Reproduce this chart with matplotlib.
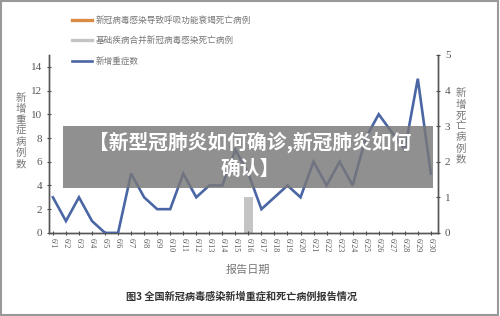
import matplotlib
matplotlib.use("Agg")
import matplotlib.pyplot as plt
from matplotlib.lines import Line2D
from matplotlib.patches import Rectangle

plt.rcParams['font.family'] = ['Noto Sans CJK SC', 'DejaVu Sans']

dates = [f"6/{d}" for d in range(1, 31)]
severe = [3, 1, 3, 1, 0, 0, 5, 3, 2, 2, 5, 3, 4, 4, 7, 5, 2, 3, 4, 3,
          6, 4, 6, 4, 8, 10, 8.5, 7, 13, 5]
resp_deaths = [0] * 30
comorb_deaths = [0] * 15 + [1] + [0] * 14

legend_labels = ["新冠病毒感染导致呼吸功能衰竭死亡病例",
                 "基础疾病合并新冠病毒感染死亡病例",
                 "新增重症数"]
left_ticks = [0, 2, 4, 6, 8, 10, 12, 14]
right_ticks = [0, 1, 2, 3, 4, 5]

C_ORANGE = "#DC8B45"
C_GRAY = "#C4C4C4"
C_BLUE = "#4B66A4"
C_TXT = "#555555"

fig = plt.figure(figsize=(5.0, 3.16), dpi=100)
ax = fig.add_axes([0.098, 0.263, 0.778, 0.563])
ax2 = ax.twinx()

x = list(range(len(dates)))
ax2.bar(x, resp_deaths, width=0.75, color=C_ORANGE, zorder=1)
ax2.bar(x, comorb_deaths, width=0.75, bottom=resp_deaths, color=C_GRAY, zorder=1)
ax.plot(x, severe, color=C_BLUE, lw=1.9, zorder=3, solid_joinstyle='miter')
ax.set_zorder(ax2.get_zorder() + 1)
ax.patch.set_visible(False)

ax.set_xlim(-0.3, 29.55)
ax.set_ylim(0, 15)
ax2.set_ylim(0, 5)
ax.set_yticks(left_ticks)
ax2.set_yticks(right_ticks)
ax.set_xticks(x)
ax.set_xticklabels(dates, rotation=-90, fontsize=5.8, color=C_TXT,
                   family=['Liberation Serif'])
for a in (ax, ax2):
    for s in a.spines.values():
        s.set_color("#555555")
        s.set_linewidth(1.0)
    a.spines['top'].set_visible(False)
ax.tick_params(axis='y', labelsize=8, colors="#444444", length=3, direction='inout', labelcolor=C_TXT)
ax2.tick_params(axis='y', labelsize=8, colors="#444444", length=3, direction='inout', labelcolor=C_TXT)
ax.tick_params(axis='x', length=3, direction='inout', colors="#444444", labelcolor=C_TXT, pad=2)
for lab in ax.get_yticklabels() + ax2.get_yticklabels():
    lab.set_family(['Liberation Serif'])

# axis titles (vertical stacked CJK)
fig.text(0.042, 0.585, "\n".join("新增重症病例数"), ha='center', va='center',
         fontsize=7.5, color="#777777", linespacing=1.12)
fig.text(0.922, 0.6, "\n".join("新增死亡病例数"), ha='center', va='center',
         fontsize=7.5, color="#777777", linespacing=1.12)
fig.text(0.496, 0.145, "报告日期", ha='center', va='center', fontsize=8, color="#777777")

# legend
handles = [Line2D([], [], color=C_ORANGE, lw=2.4),
           Line2D([], [], color=C_GRAY, lw=2.4),
           Line2D([], [], color=C_BLUE, lw=1.9)]
fig.legend(handles, legend_labels, loc='upper left', bbox_to_anchor=(0.128, 0.975),
           frameon=False, fontsize=6.2, handlelength=2.3, handletextpad=0.5,
           labelspacing=1.35, labelcolor="#777777")

# caption
fig.text(0.484, 0.063, "图3 全国新冠病毒感染新增重症和死亡病例报告情况", ha='center', va='center',
         fontsize=7.3, color="#333333", fontweight='bold')

# overlay title box
fig.patches.append(Rectangle((63 / 500, 1 - 188 / 316), 370 / 500, 62 / 316,
                             transform=fig.transFigure, facecolor=(0.47, 0.47, 0.47),
                             alpha=0.82, edgecolor='none', zorder=10))
fig.text(0.50, 1 - 142 / 316, "【新型冠肺炎如何确诊,新冠肺炎如何", ha='center', va='center',
         fontsize=14.2, color='white', fontweight='black', zorder=11)
fig.text(0.50, 1 - 169 / 316, "确认】", ha='center', va='center',
         fontsize=14.2, color='white', fontweight='black', zorder=11)

# outer frame
fig.patches.append(Rectangle((0.002, 0.004), 0.994, 0.992, transform=fig.transFigure,
                             facecolor='none', edgecolor="#999999", lw=1.5, zorder=12))

fig.savefig("out.png", dpi=100)
